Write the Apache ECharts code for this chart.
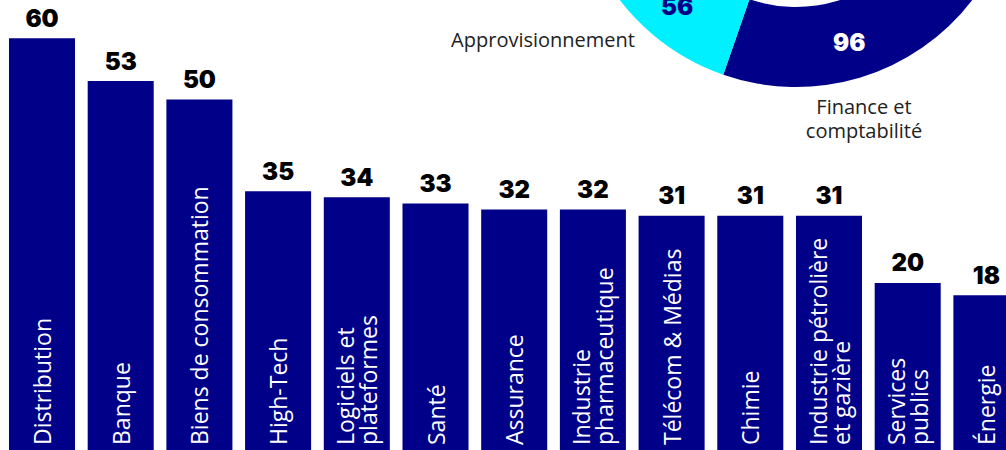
<!DOCTYPE html>
<html><head><meta charset="utf-8">
<script src="https://cdn.jsdelivr.net/npm/echarts@6/dist/echarts.min.js"></script>
<style>html,body{margin:0;padding:0;background:#fff}#c{width:1006px;height:450px}</style>
</head><body><div id="c"></div>
<script>
// ---- data ----
const categories = ['Distribution', 'Banque', 'Biens de consommation', 'High-Tech', 'Logiciels et\nplateformes', 'Santé', 'Assurance', 'Industrie\npharmaceutique', 'Télécom & Médias', 'Chimie', 'Industrie pétrolière\net gazière', 'Services\npublics', 'Énergie'];
const values = [60, 53, 50, 35, 34, 33, 32, 32, 31, 31, 31, 20, 18];
const pieNames = ['Finance et\ncomptabilité', 'Approvisionnement'];
const pieValues = [96, 56];

// ---- style ----
const NAVY = '#000088';
const CYAN = '#00F0FF';
const Y_MIN = -7.3, Y_MAX = 60;
const pieColors = [NAVY, CYAN];
const pieLabelColors = ['#ffffff', NAVY];
const nameLayout = [
  { x: 864, y: 118, align: 'center', verticalAlign: 'middle' },
  { x: 635, y: 39, align: 'right', verticalAlign: 'middle' }
];

const chart = echarts.init(document.getElementById('c'), null, { renderer: 'svg' });
chart.setOption({
  animation: false,
  backgroundColor: '#ffffff',
  grid: { left: 2.65, width: 1023.1, top: 38.2, height: 411.8, containLabel: false, outerBoundsMode: 'none' },
  xAxis: { type: 'category', data: categories, boundaryGap: true, show: false },
  yAxis: { type: 'value', min: Y_MIN, max: Y_MAX, show: false },
  series: [
    {
      type: 'custom',
      coordinateSystem: 'cartesian2d',
      clip: false,
      data: values.map((v, i) => [i, v]),
      encode: { x: 0, y: 1 },
      renderItem: function (params, api) {
        const i = api.value(0), v = api.value(1);
        const top = api.coord([i, v]);
        const base = api.coord([i, Y_MIN]);
        const w = api.size([1, 0])[0] * 0.839;
        return {
          type: 'group',
          children: [
            { type: 'rect', shape: { x: top[0] - w / 2, y: top[1], width: w, height: base[1] - top[1] }, style: { fill: NAVY } },
            { type: 'text', x: top[0], y: top[1] - 20, style: { text: String(v), fill: '#000', fontFamily: 'Inter', fontWeight: 900, fontSize: 24, align: 'center', verticalAlign: 'middle' } },
            { type: 'text', x: top[0], y: base[1] - 5, rotation: Math.PI / 2, style: { text: categories[i], fill: '#fff', fontFamily: 'Open Sans', fontWeight: 500, fontSize: 23, lineHeight: 23, align: 'left', verticalAlign: 'middle' } }
          ]
        };
      }
    },
    {
      type: 'pie',
      center: [796, -135],
      radius: [142, 222],
      startAngle: -37.5,
      endAngle: -150.9,
      clockwise: true,
      avoidLabelOverlap: false,
      emphasis: { disabled: true },
      data: pieNames.map((n, i) => ({ name: n, value: pieValues[i], itemStyle: { color: pieColors[i] }, label: { color: pieLabelColors[i] } })),
      label: { show: true, position: 'inside', formatter: '{c}', fontFamily: 'Inter', fontWeight: 900, fontSize: 24 },
      labelLine: { show: false }
    },
    {
      type: 'pie',
      center: [796, -135],
      radius: [142, 222],
      startAngle: -37.5,
      endAngle: -150.9,
      clockwise: true,
      silent: true,
      avoidLabelOverlap: false,
      emphasis: { disabled: true },
      itemStyle: { color: 'rgba(0,0,0,0)' },
      data: pieNames.map((n, i) => ({ name: n, value: pieValues[i] })),
      label: { show: true, position: 'outside', formatter: '{b}', color: '#222', fontFamily: 'Open Sans', fontSize: 20, lineHeight: 24 },
      labelLine: { show: false },
      labelLayout: function (p) { return nameLayout[p.dataIndex]; }
    }
  ]
});
</script></body></html>
